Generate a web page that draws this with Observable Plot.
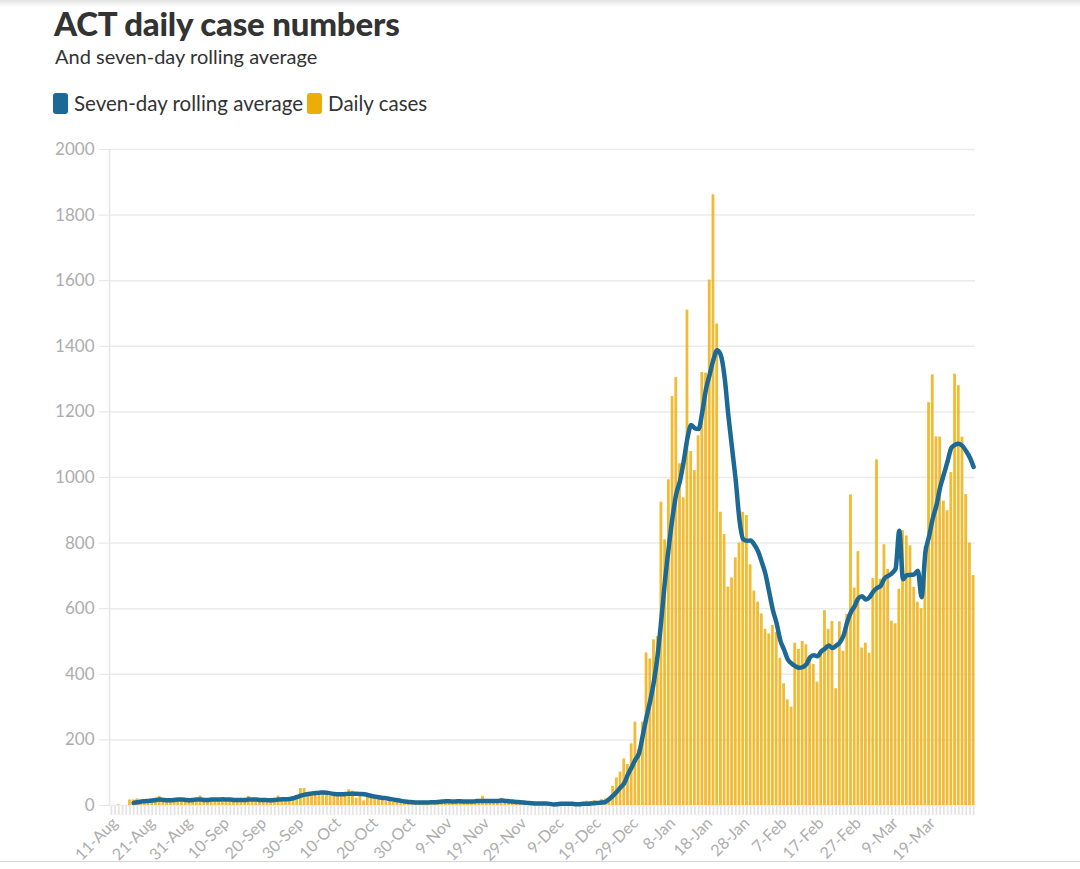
<!DOCTYPE html>
<html>
<head>
<meta charset="utf-8">
<script src="https://cdn.jsdelivr.net/npm/d3@7"></script>
<script src="https://cdn.jsdelivr.net/npm/@observablehq/plot@0.6"></script>
<style>
  html, body { margin: 0; padding: 0; background: #fff; }
  body { width: 1080px; height: 869px; position: relative; overflow: hidden; font-family: Lato, "Noto Sans", sans-serif; }
  #topshade { position: absolute; left: 0; top: 0; width: 1080px; height: 7px; background: linear-gradient(#e2e2e2, #ffffff); }
  #title { position: absolute; left: 54px; top: 4px; font-size: 33px; line-height: 38px; font-weight: 900; color: #333; white-space: nowrap; letter-spacing: -0.2px; }
  #subtitle { position: absolute; left: 55px; top: 43px; font-size: 20px; line-height: 26px; color: #333; white-space: nowrap; }
  #legend { position: absolute; left: 53px; top: 91px; display: flex; align-items: center; font-size: 20.5px; line-height: 24px; color: #333; white-space: nowrap; }
  #legend .sw { display: inline-block; width: 15px; height: 21px; border-radius: 3px; margin-right: 6px; }
  #legend .item { display: flex; align-items: center; margin-right: 4px; }
  #bottomline { position: absolute; left: 0; top: 861px; width: 1080px; height: 1px; background: #d8d8d8; }
  #chart { position: absolute; left: 0; top: 120px; width: 1080px; height: 745px; }
  g[aria-label="y-axis tick"], g[aria-label="y-axis tick"] path, g[aria-label="y-axis"] .tick line { stroke: #e4e4e4; }
  g[aria-label="x-axis tick"], g[aria-label="x-axis tick"] path, g[aria-label="x-axis"] .tick line { stroke: #e4e4e4; stroke-width: 1.7px; }
  g[aria-label="x-axis tick label"], g[aria-label="x-axis"] text { font-size: 16px; }
  g[aria-label="y-axis tick label"], g[aria-label="y-axis"] text { font-size: 17px; }
  g[aria-label="x-axis"] .domain, g[aria-label="y-axis"] .domain { display: none; }
</style>
</head>
<body>
<div id="topshade"></div>
<div id="title">ACT daily case numbers</div>
<div id="subtitle">And seven-day rolling average</div>
<div id="legend"></div>
<div id="bottomline"></div>
<div id="chart"></div>
<script>
// ---- data ----
const startDate = "2021-08-10";

// daily cases, one per day from startDate
const dailyCases = [
  0,0,2,0,0,17,17,20,14,12,
  16,19,22,28,12,13,16,19,21,14,
  12,20,18,17,29,15,16,20,17,19,
  18,21,16,15,19,18,16,28,15,17,
  13,19,8,17,15,29,18,20,20,22,
  30,52,52,31,32,33,35,36,30,28,
  29,29,30,32,48,44,22,36,14,30,
  27,22,20,17,13,15,10,12,8,9,
  10,9,8,10,9,8,11,12,10,15,
  13,14,9,15,14,11,12,10,14,16,
  28,12,14,13,15,22,16,11,10,9,
  8,6,7,5,4,2,6,5,4,1,
  3,5,2,4,3,6,5,9,13,12,
  15,12,18,20,22,58,84,102,142,125,
  188,254,170,254,465,447,505,515,925,810,
  993,1247,1305,1042,938,1510,1079,1021,1127,1320,
  1318,1602,1862,1468,894,826,666,694,755,800,
  894,884,734,654,620,584,537,523,549,528,
  449,371,322,300,495,476,500,490,455,430,
  376,470,594,537,561,356,560,470,583,947,
  663,774,480,495,464,692,1054,690,795,720,
  562,554,659,838,822,792,665,620,600,788,
  1228,1313,1124,1123,928,899,1015,1315,1280,1123,
  948,800,701
];

// seven-day rolling average, one per day; the series begins on the 7th day
const rollingAvg = [
  8,10,12,13,
  14,15,17,18,17,16,16,17,18,18,
  17,16,17,18,18,17,17,18,18,18,
  19,18,18,17,17,17,17,18,18,18,
  17,17,16,16,17,18,19,19,20,22,
  26,30,33,35,37,38,39,40,39,37,
  35,34,34,35,36,36,36,35,34,32,
  29,27,25,23,22,20,18,16,14,12,
  11,10,9,9,9,9,10,10,11,12,
  13,13,12,13,13,12,12,12,13,14,
  14,14,14,14,14,15,14,13,12,11,
  10,9,8,7,6,6,6,6,5,3,
  4,5,5,5,5,4,4,5,5,6,
  7,8,9,11,20,30,42,55,68,95,
  117,140,160,215,270,320,380,460,570,690,
  790,880,950,990,1050,1120,1160,1150,1148,1200,
  1270,1315,1360,1388,1372,1305,1190,1090,990,870,
  812,807,808,795,775,742,705,650,595,555,
  503,475,445,433,425,420,422,430,452,458,
  455,470,478,488,480,487,497,518,560,590,
  608,632,638,628,635,652,663,670,692,700,
  708,722,838,690,702,703,705,716,635,770,
  820,875,915,970,1010,1050,1090,1100,1103,1096,
  1080,1060,1032
];

const xTickLabels = ["11-Aug","21-Aug","31-Aug","10-Sep","20-Sep","30-Sep","10-Oct","20-Oct","30-Oct",
  "9-Nov","19-Nov","29-Nov","9-Dec","19-Dec","29-Dec","8-Jan","18-Jan","28-Jan","7-Feb","17-Feb",
  "27-Feb","9-Mar","19-Mar"];
const yTicks = [0,200,400,600,800,1000,1200,1400,1600,1800,2000];

const seriesNames = ["Seven-day rolling average", "Daily cases"];
const seriesColors = ["#1D6996", "#EDAD08"];

// ---- build ----
const DAY = 864e5;
const t0 = Date.parse(startDate + "T00:00:00Z");
const bars = dailyCases.map((v, i) => ({x1: new Date(t0 + i * DAY), x2: new Date(t0 + (i + 1) * DAY), v}));
const avgOffset = dailyCases.length - rollingAvg.length;
const avg = rollingAvg.map((v, j) => ({x: new Date(t0 + (j + avgOffset + 0.5) * DAY), v}));
const dayTicks = bars.map(b => new Date(+b.x1 + DAY / 2));

const monthIdx = {Jan:0,Feb:1,Mar:2,Apr:3,May:4,Jun:5,Jul:6,Aug:7,Sep:8,Oct:9,Nov:10,Dec:11};
const labelByTime = new Map(xTickLabels.map(s => {
  const [dd, mm] = s.split("-");
  const m = monthIdx[mm];
  const y = m < 6 ? 2022 : 2021;
  return [Date.UTC(y, m, +dd, 12), s];
}));

const legend = document.getElementById("legend");
seriesNames.forEach((n, k) => {
  const it = document.createElement("span");
  it.className = "item";
  it.innerHTML = `<span class="sw" style="background:${seriesColors[k]}"></span>${n}`;
  legend.appendChild(it);
});

const chart = Plot.plot({
  width: 1080,
  height: 745,
  marginTop: 29,
  marginBottom: 60,
  marginLeft: 109,
  marginRight: 105,
  style: {fontFamily: "Lato, 'Noto Sans', sans-serif", fontSize: "17px", color: "#adadad", background: "transparent", overflow: "visible"},
  x: {
    type: "utc",
    domain: [new Date(t0), new Date(t0 + dailyCases.length * DAY)],
    ticks: dayTicks,
    tickFormat: d => labelByTime.get(+d) ?? "",
    tickRotate: -45,
    tickSize: 10,
    tickPadding: 5,
    label: null
  },
  y: {
    domain: [0, 2000],
    ticks: yTicks,
    tickSize: 10,
    tickPadding: 5,
    tickFormat: d => String(d),
    label: null
  },
  marks: [
    Plot.ruleY(yTicks, {stroke: "#ebebeb", strokeWidth: 1.5}),
    Plot.ruleX([new Date(t0)], {stroke: "#e6e6e6", strokeWidth: 1.5}),
    Plot.rectY(bars, {x1: "x1", x2: "x2", y: "v", fill: seriesColors[1], fillOpacity: 0.82, insetLeft: 0.45, insetRight: 0.45}),
    Plot.lineY(avg, {x: "x", y: "v", stroke: seriesColors[0], strokeWidth: 4.5, curve: "monotone-x", strokeLinejoin: "round", strokeLinecap: "round"})
  ]
});
document.getElementById("chart").appendChild(chart);
</script>
</body>
</html>
